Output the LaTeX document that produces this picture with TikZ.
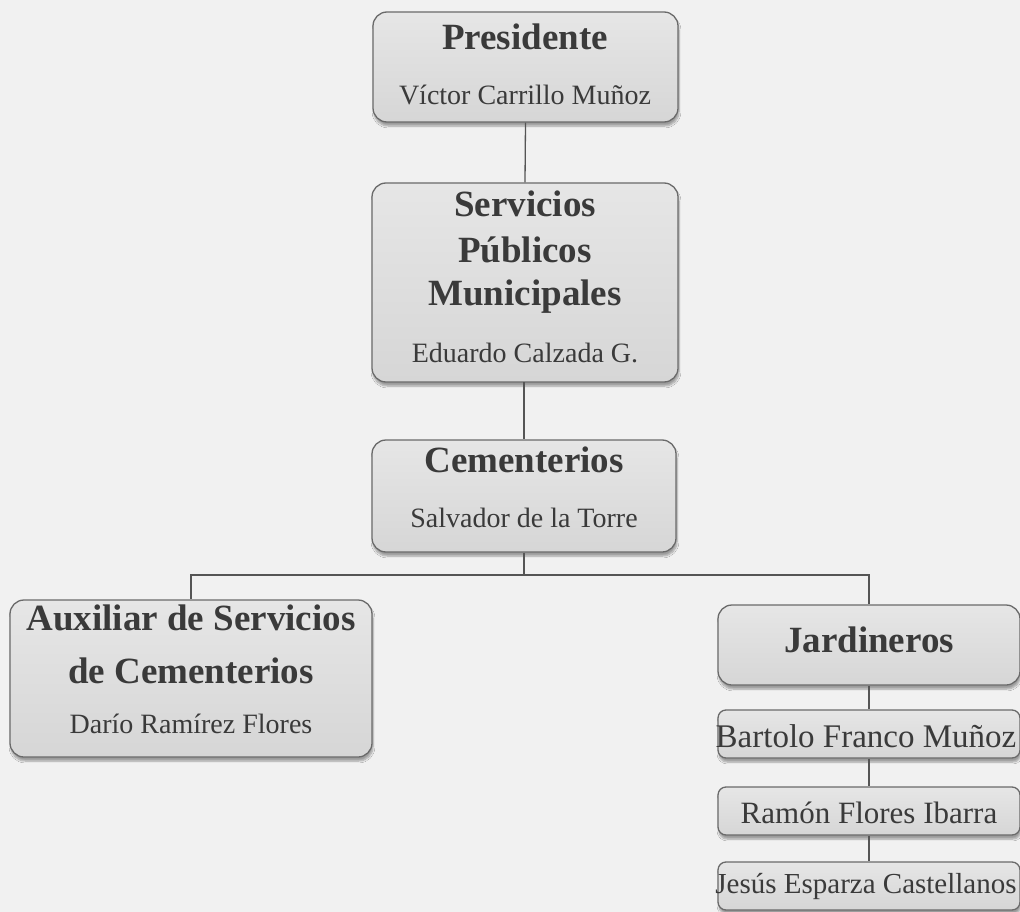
\documentclass[tikz,border=0pt]{standalone}
\usepackage{fontspec}
\setmainfont{Liberation Serif}
\usetikzlibrary{shadows.blur}
\definecolor{bg}{HTML}{F1F1F1}
\definecolor{boxtop}{HTML}{E6E6E6}
\definecolor{boxbot}{HTML}{D6D6D6}
\definecolor{edge}{HTML}{6A6A6A}
\definecolor{ink}{HTML}{3A3A3A}
\definecolor{wire}{HTML}{555555}
\tikzset{
  orgbox/.style={draw=edge, line width=1.3pt, rounded corners=14pt, inner sep=0pt,
    top color=boxtop, bottom color=boxbot,
    blur shadow={shadow xshift=1pt, shadow yshift=-4pt, shadow blur steps=6, shadow opacity=35}},
  namebox/.style={orgbox, rounded corners=8pt, minimum width=302pt, minimum height=48pt},
  ttl/.style={anchor=base, text=ink, font=\fontsize{37}{40}\selectfont\bfseries, inner sep=0pt},
  nm/.style={anchor=base, text=ink, font=\fontsize{28}{30}\selectfont, inner sep=0pt},
  wireline/.style={draw=wire, line width=1.3pt}
}
\begin{document}
\begin{tikzpicture}[x=1pt,y=-1pt]
\fill[bg] (0,0) rectangle (1020,912);
\useasboundingbox (0,0) rectangle (1020,912);

% boxes
\node[orgbox, minimum width=305pt, minimum height=110pt] (pres) at (525.5,67) {};
\node[orgbox, minimum width=306pt, minimum height=199pt] (serv) at (525,282.5) {};
\node[orgbox, minimum width=304pt, minimum height=112pt] (cem) at (524,496) {};
\node[orgbox, minimum width=362pt, minimum height=157pt] (aux) at (191,678.5) {};
\node[orgbox, minimum width=302pt, minimum height=80pt] (jard) at (869,645) {};
\node[namebox] (bart) at (869,734) {};
\node[namebox] (ramon) at (869,811) {};
\node[namebox] (jesus) at (869,886) {};

% texts
\node[ttl] (tpres) at (525,50) {Presidente};
\node[nm] (npres) at (525,105) {Víctor Carrillo Muñoz};
\node[ttl] (tserv1) at (525,217) {Servicios};
\node[ttl] (tserv2) at (525,262) {Públicos};
\node[ttl] (tserv3) at (525,305) {Municipales};
\node[nm] (nserv) at (525,362) {Eduardo Calzada G.};
\node[ttl] (tcem) at (524,472) {Cementerios};
\node[nm] (ncem) at (524,527) {Salvador de la Torre};
\node[ttl] (taux1) at (191,630) {Auxiliar de Servicios};
\node[ttl] (taux2) at (191,683) {de Cementerios};
\node[nm] (naux) at (191,733) {Darío Ramírez Flores};
\node[ttl] (tjard) at (869,652) {Jardineros};
\node[nm, font=\fontsize{33}{35}\selectfont] (nbart) at (866,747) {Bartolo Franco Muñoz};
\node[nm, font=\fontsize{31}{33}\selectfont] (nramon) at (869,823) {Ramón Flores Ibarra};
\node[nm, font=\fontsize{29}{31}\selectfont] (njesus) at (866,893) {Jesús Esparza Castellanos};

% connectors
\coordinate (bus) at (0,575);
\draw[wireline] (pres.south) -- (serv.north);
\draw[wireline] (serv.south) -- (cem.south |- serv.south) -- (cem.north);
\draw[wireline] (cem.south) -- (cem.south |- bus) -| (aux.north);
\draw[wireline] (cem.south |- bus) -| (jard.north);
\draw[wireline] (jard.south) -- (bart.north);
\draw[wireline] (bart.south) -- (ramon.north);
\draw[wireline] (ramon.south) -- (jesus.north);
\end{tikzpicture}
\end{document}
